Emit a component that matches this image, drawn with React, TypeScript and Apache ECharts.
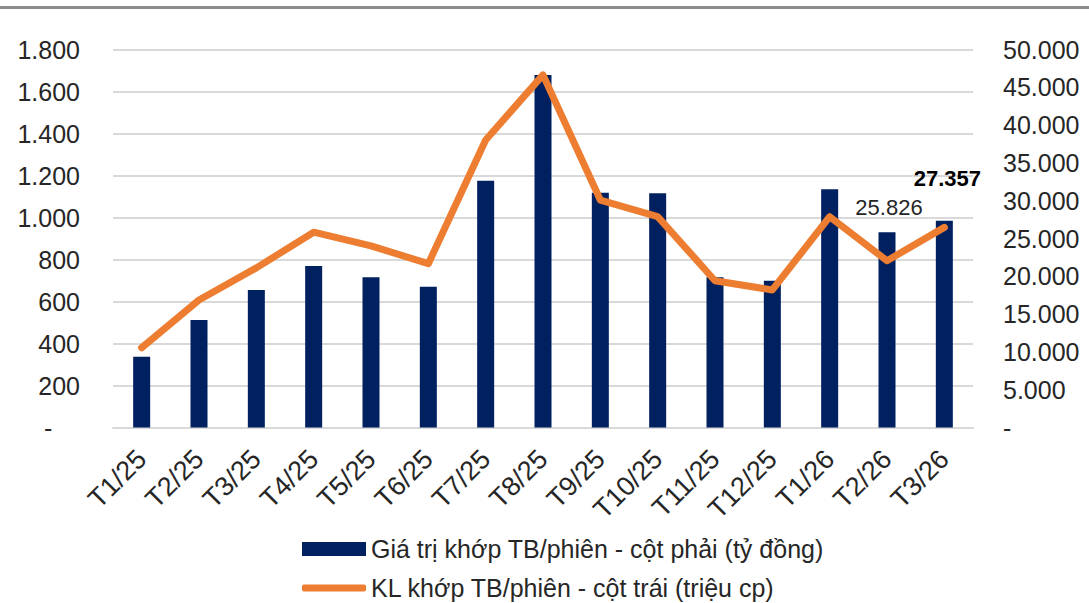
import React, { useEffect, useRef } from "react";
import * as echarts from "echarts";

const categories = ["T1/25", "T2/25", "T3/25", "T4/25", "T5/25", "T6/25", "T7/25", "T8/25", "T9/25", "T10/25", "T11/25", "T12/25", "T1/26", "T2/26", "T3/26"];
// Giá trị khớp TB/phiên (right axis)
const barValues = [9365, 14220, 18190, 21360, 19868, 18624, 32640, 46627, 31050, 31000, 19868, 19418, 31508, 25826, 27357];
// KL khớp TB/phiên (left axis)
const lineValues = [380, 607, 760, 930, 865, 780, 1369, 1679, 1083, 1004, 699, 655, 1004, 794, 953];
const barName = "Giá trị khớp TB/phiên - cột phải (tỷ đồng)";
const lineName = "KL khớp TB/phiên - cột trái (triệu cp)";
const labelIndexes = [13, 14];

const fmt = (v: number) => {
  if (v === 0) return "-";
  return String(Math.round(v)).replace(/\B(?=(\d{3})+(?!\d))/g, ".");
};

const FONT = "'Liberation Sans', Arial, sans-serif";

export default function App() {
  const ref = useRef<HTMLDivElement>(null);
  useEffect(() => {
    if (!ref.current) return;
    const chart = echarts.init(ref.current, undefined, { renderer: "svg" });
    const barData = barValues.map((v, i) => {
      if (!labelIndexes.includes(i)) return v;
      const bold = i === 14;
      return {
        value: v,
        label: {
          show: true,
          position: "top",
          distance: bold ? 31 : 14,
          offset: bold ? [3, 0] : [2, 0],
          formatter: (p: any) => fmt(p.value),
          fontFamily: FONT,
          fontSize: 22,
          fontWeight: bold ? "bold" : "normal",
          color: bold ? "#000000" : "#262626",
        },
      };
    });
    const legendText = { fontFamily: FONT, fontSize: 25, color: "#262626", lineHeight: 26 };
    chart.setOption({
      animation: false,
      backgroundColor: "#ffffff",
      textStyle: { fontFamily: FONT },
      graphic: [
        {
          type: "line",
          shape: { x1: 0, y1: 7.5, x2: 1089, y2: 7.5 },
          style: { stroke: "#8c8c8c", lineWidth: 3 },
        },
      ],
      grid: { left: 113, right: 116, top: 49.5, bottom: 175.5, containLabel: false },
      legend: [
        {
          left: 297,
          top: 531,
          padding: [5, 5, 0, 5],
          itemWidth: 64,
          itemHeight: 14,
          textStyle: legendText,
          data: [{ name: barName, icon: "rect" }],
        },
        {
          left: 297,
          top: 570,
          padding: [5, 5, 0, 5],
          itemWidth: 64,
          itemHeight: 7,
          textStyle: legendText,
          data: [{ name: lineName, icon: "roundRect", itemStyle: { color: "#ED7D31" } }],
        },
      ],
      xAxis: {
        type: "category",
        data: categories,
        axisLine: { show: true, lineStyle: { color: "#d9d9d9", width: 2 } },
        axisTick: { show: false },
        axisLabel: {
          rotate: 45,
          margin: 27,
          interval: 0,
          fontFamily: FONT,
          fontSize: 27,
          color: "#262626",
        },
      },
      yAxis: [
        {
          type: "value",
          min: 0,
          max: 1800,
          interval: 200,
          position: "left",
          axisLine: { show: false },
          axisTick: { show: false },
          splitLine: { show: true, lineStyle: { color: "#d9d9d9", width: 2 } },
          axisLabel: {
            margin: 33,
            fontFamily: FONT,
            fontSize: 25,
            color: "#262626",
            formatter: (v: number) => (v === 0 ? "-    " : fmt(v)),
          },
        },
        {
          type: "value",
          min: 0,
          max: 50000,
          interval: 5000,
          position: "right",
          axisLine: { show: false },
          axisTick: { show: false },
          splitLine: { show: false },
          axisLabel: {
            margin: 30,
            fontFamily: FONT,
            fontSize: 25,
            color: "#262626",
            formatter: (v: number) => fmt(v),
          },
        },
      ],
      series: [
        {
          name: barName,
          type: "bar",
          yAxisIndex: 1,
          barWidth: 17,
          data: barData,
          itemStyle: { color: "#002060" },
          z: 2,
        },
        {
          name: lineName,
          type: "line",
          yAxisIndex: 0,
          data: lineValues,
          symbol: "none",
          lineStyle: { color: "#ED7D31", width: 7, cap: "round", join: "round" },
          itemStyle: { color: "#ED7D31" },
          z: 3,
        },
      ],
    });
    return () => chart.dispose();
  }, []);
  return <div ref={ref} style={{ position: "fixed", left: 0, top: 0, width: 1089, height: 603 }} />;
}
